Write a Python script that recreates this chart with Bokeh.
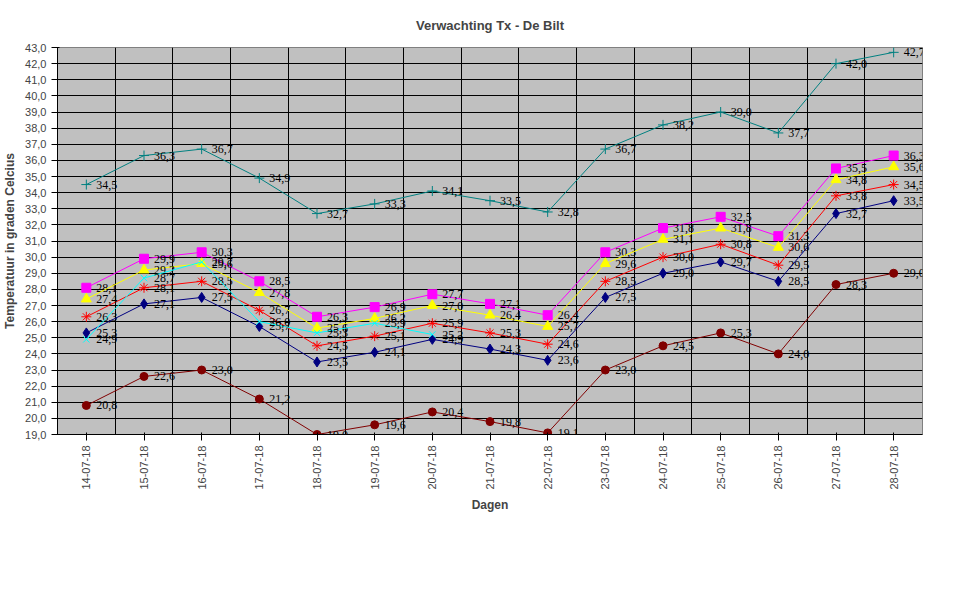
import math
from bokeh.plotting import figure
from bokeh.models import Legend, LegendItem, FixedTicker, ColumnDataSource
from bokeh.embed import file_html
from bokeh.resources import INLINE

dates = ["14-07-18","15-07-18","16-07-18","17-07-18","18-07-18","19-07-18","20-07-18","21-07-18",
         "22-07-18","23-07-18","24-07-18","25-07-18","26-07-18","27-07-18","28-07-18"]
verwachting = [26.3,28.1,28.5,26.7,24.5,25.1,25.9,25.3,24.6,28.5,30.0,30.8,29.5,33.8,34.5]
afw_pos = [25.3,27.1,27.5,25.7,23.5,24.1,24.9,24.3,23.6,27.5,29.0,29.7,28.5,32.7,33.5]
afw_neg = [28.1,29.9,30.3,28.5,26.3,26.9,27.7,27.1,26.4,30.3,31.8,32.5,31.3,35.5,36.3]
gem_afw = [27.4,29.2,29.6,27.8,25.6,26.2,27.0,26.4,25.7,29.6,31.1,31.8,30.6,34.8,35.6]
max_afw = [20.8,22.6,23.0,21.2,19.0,19.6,20.4,19.8,19.1,23.0,24.5,25.3,24.0,28.3,29.0]
min_afw = [34.5,36.3,36.7,34.9,32.7,33.3,34.1,33.5,32.8,36.7,38.2,39.0,37.7,42.0,42.7]
werkelijk = [24.9,28.7,29.7,26.0,25.3,25.9,25.2]

p = figure(frame_width=865, frame_height=387, output_backend="svg", toolbar_location=None,
           x_range=(-0.5, 14.5), y_range=(19, 43), title="Verwachting Tx - De Bilt",
           min_border_left=20, min_border_right=20, min_border_top=10, min_border_bottom=10)
p.title.align = "center"
p.title.text_font = "Liberation Sans"
p.title.text_font_size = "13px"
p.title.standoff = 30
p.background_fill_color = "#C0C0C0"
p.outline_line_color = "#808080"

p.xaxis.ticker = FixedTicker(ticks=list(range(15)))
p.xaxis.major_label_overrides = {i: d for i, d in enumerate(dates)}
p.xaxis.major_label_orientation = math.pi / 2
p.yaxis.ticker = FixedTicker(ticks=list(range(19, 44)))
p.yaxis.major_label_overrides = {v: f"{v},0" for v in range(19, 44)}
for ax in (p.xaxis, p.yaxis):
    ax.major_label_text_font = "Liberation Sans"
    ax.major_label_text_font_size = "11px"
    ax.axis_label_text_font = "Liberation Sans"
    ax.axis_label_text_font_size = "12px"
    ax.axis_label_text_font_style = "bold"
    ax.minor_tick_line_color = None
p.xaxis.axis_label = "Dagen"
p.yaxis.axis_label = "Temperatuur in graden Celcius"
p.xgrid.ticker = FixedTicker(ticks=[i + 0.5 for i in range(-1, 15)])
p.xgrid.grid_line_color = "black"
p.ygrid.grid_line_color = "black"

series = [
    ("Verwachting Tx", verwachting, "#FF0000", "asterisk", 10),
    ("VW-afw pos", afw_pos, "#000080", "diamond", 10),
    ("VW-afw neg", afw_neg, "#FF00FF", "square", 9),
    ("VW-gem afw", gem_afw, "#FFFF00", "triangle", 10),
    ("VW-max afw", max_afw, "#800000", "circle", 8),
    ("VW-min afw", min_afw, "#008080", "cross", 10),
    ("Werkelijk Tx", werkelijk, "#00FFFF", "x", 9),
]
items = []
for name, vals, col, mk, sz in series:
    xs = list(range(len(vals)))
    src = ColumnDataSource(dict(x=xs, y=vals, t=[f"{v:.1f}".replace(".", ",") for v in vals]))
    l = p.line("x", "y", source=src, line_color=col, line_width=1)
    m = p.scatter("x", "y", source=src, marker=mk, size=sz, line_color=col, fill_color=col)
    p.text("x", "y", text="t", source=src, x_offset=10, text_baseline="middle", text_align="left",
           text_font_size="12px", text_color="black", text_font="Liberation Sans")
    items.append(LegendItem(label=name, renderers=[l, m]))

legend = Legend(items=items, orientation="horizontal", location="center",
                label_text_font="Liberation Sans", label_text_font_size="11px",
                border_line_color="black", spacing=12, padding=4, glyph_width=30, margin=6)
p.add_layout(legend, "below")

open("out.html", "w").write(file_html(p, INLINE))
